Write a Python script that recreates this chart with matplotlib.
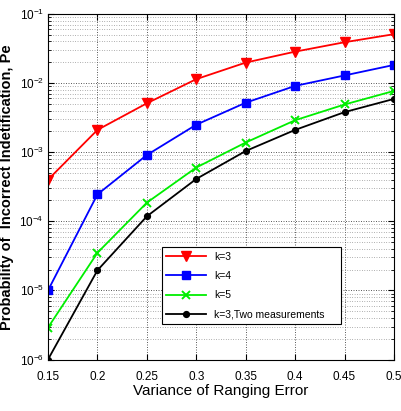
import matplotlib
matplotlib.use("Agg")
import matplotlib.pyplot as plt
from matplotlib.ticker import LogLocator, NullFormatter

plt.rcParams['font.family'] = ['Liberation Sans', 'DejaVu Sans']

# data
variance = [0.15, 0.2, 0.25, 0.3, 0.35, 0.4, 0.45, 0.5]
pe_k3 = [4.0e-4, 2.1e-3, 5.1e-3, 1.14e-2, 1.98e-2, 2.85e-2, 3.9e-2, 5.1e-2]
pe_k4 = [1.0e-5, 2.45e-4, 9.1e-4, 2.5e-3, 5.2e-3, 9.1e-3, 1.29e-2, 1.83e-2]
pe_k5 = [2.9e-6, 3.5e-5, 1.86e-4, 6.0e-4, 1.38e-3, 2.9e-3, 4.9e-3, 7.7e-3]
pe_k3_two = [1.0e-6, 1.95e-5, 1.18e-4, 4.1e-4, 1.04e-3, 2.1e-3, 3.8e-3, 5.9e-3]
labels = ['k=3', 'k=4', 'k=5', 'k=3,Two measurements']
xticks = [0.15, 0.2, 0.25, 0.3, 0.35, 0.4, 0.45, 0.5]

fig = plt.figure(figsize=(4.01, 4.11), dpi=100)
ax = fig.add_axes([0.1197, 0.1253, 0.8628, 0.8407])

ax.semilogy(variance, pe_k3, color='#ff0000', marker='v', ms=6.5, lw=1.3, label=labels[0])
ax.semilogy(variance, pe_k4, color='#0000ff', marker='s', ms=5.5, lw=1.3, label=labels[1])
ax.semilogy(variance, pe_k5, color='#00ee00', marker='x', ms=6, mew=1.4, lw=1.3, label=labels[2])
ax.semilogy(variance, pe_k3_two, color='black', marker='o', ms=4.2, lw=1.3, label=labels[3])

ax.set_xlim(0.15, 0.5)
ax.set_ylim(1e-6, 1e-1)
ax.set_xticks(xticks)
ax.set_xticklabels([f'{t:g}' for t in xticks], fontsize=8.5)
ax.yaxis.set_major_locator(LogLocator(base=10, numticks=10))
ax.yaxis.set_minor_locator(LogLocator(base=10, subs=range(2, 10), numticks=50))
ax.yaxis.set_minor_formatter(NullFormatter())
ax.tick_params(axis='both', which='both', direction='in', top=True, right=True, labelsize=8.5)
ax.tick_params(which='major', length=4)
ax.tick_params(which='minor', length=2)
ax.tick_params(axis='x', pad=8)
ax.tick_params(axis='y', pad=3)

ax.grid(True, which='major', ls=(0, (1.2, 1.8)), color='#444444', lw=0.6)
ax.grid(True, which='minor', axis='y', ls=(0, (1, 2.5)), color='#666666', lw=0.5)

ax.set_xlabel('Variance of Ranging Error', fontsize=11, labelpad=1)
ax.set_ylabel('Probability of  Incorrect Indetification, Pe', fontsize=10.5, fontweight='bold', labelpad=1)
ax.yaxis.set_label_coords(-0.097, 0.5)

leg = ax.legend(loc='lower left', bbox_to_anchor=(0.329, 0.103, 0.518, 0.26), mode='expand',
                fontsize=7.5, fancybox=False, framealpha=1, edgecolor='black',
                handlelength=3.8, labelspacing=0.9, borderaxespad=0)
leg.get_frame().set_linewidth(0.8)

fig.savefig('out.png', dpi=100)
